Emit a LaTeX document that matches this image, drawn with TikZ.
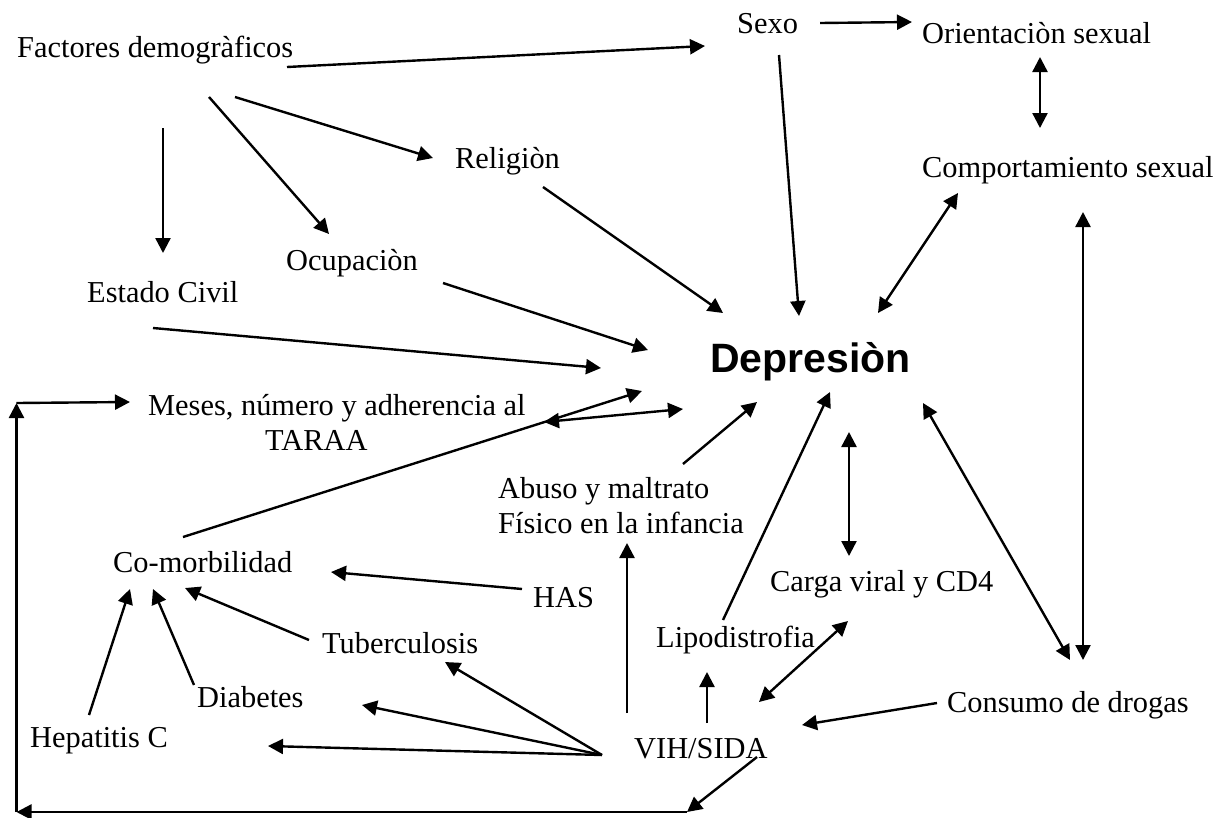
\documentclass[tikz,border=0pt]{standalone}
\usepackage{fontspec}
\setmainfont{Liberation Serif}
\newfontfamily\arialfont{Liberation Sans}
\usetikzlibrary{arrows.meta}
\begin{document}
\begin{tikzpicture}[x=1pt,y=-1pt,
  lbl/.style={anchor=base west,inner sep=0pt,font=\fontsize{30.4}{35}\selectfont},
  conn/.style={line width=2.4pt,-{Triangle[length=15pt,width=15pt]}},
  biconn/.style={line width=2.4pt,{Triangle[length=15pt,width=15pt]}-{Triangle[length=15pt,width=15pt]}},
  plain/.style={line width=2.4pt}]
\useasboundingbox (0,0) rectangle (1228,817);

% ---------- nodes ----------
\node[lbl] (fact)   at (17,57)   {Factores demogràficos};
\node[lbl] (sexo)   at (737,33)  {Sexo};
\node[lbl] (orient) at (922,43)  {Orientaciòn sexual};
\node[lbl] (comp)   at (922,177) {Comportamiento sexual};
\node[lbl] (relig)  at (455,168) {Religiòn};
\node[lbl] (ocup)   at (286,270) {Ocupaciòn};
\node[lbl] (estado) at (87,302)  {Estado Civil};
\node[anchor=base west,inner sep=0pt,font=\arialfont\bfseries\fontsize{41}{47}\selectfont] (depr) at (710,372) {Depresiòn};
\node[lbl] (meses)  at (148,415) {\vtop{\hbox{Meses, número y adherencia al}\hbox{\hspace*{117pt}TARAA}}};
\node[lbl] (abuso)  at (498,498) {\vtop{\hbox{Abuso y maltrato}\hbox{Físico en la infancia}}};
\node[lbl] (como)   at (113,572) {Co-morbilidad};
\node[lbl] (has)    at (533,607) {HAS};
\node[lbl] (tuber)  at (322,653) {Tuberculosis};
\node[lbl] (diab)   at (197,707) {Diabetes};
\node[lbl] (hepa)   at (30,747)  {Hepatitis C};
\node[lbl] (lipo)   at (656,647) {Lipodistrofia};
\node[lbl] (carga)  at (770,591) {Carga viral y CD4};
\node[lbl] (vih)    at (634,758) {VIH/SIDA};
\node[lbl] (consumo) at (947,712) {Consumo de drogas};

% ---------- connector end points ----------
\coordinate (factA) at (287,67);   \coordinate (sexoIn) at (705,46);
\coordinate (factB) at (163,128);  \coordinate (estadoIn) at (163,253);
\coordinate (factC) at (209,97);   \coordinate (ocupIn) at (329,234);
\coordinate (factD) at (235,97);   \coordinate (religIn) at (433,158);
\coordinate (religOut) at (543,187); \coordinate (deprA) at (723,313);
\coordinate (sexoOut) at (779,55);   \coordinate (deprB) at (799,316);
\coordinate (sexoR) at (820,23);     \coordinate (orientIn) at (912,22);
\coordinate (orientB) at (1040,57);  \coordinate (compT) at (1040,128);
\coordinate (compL) at (958,193);    \coordinate (deprC) at (878,313);
\coordinate (compB) at (1083,212);   \coordinate (consumoT) at (1083,660);
\coordinate (deprD) at (923,403);    \coordinate (consumoL) at (1070,660);
\coordinate (deprE) at (849,432);    \coordinate (cargaT) at (849,556);
\coordinate (lipoOut) at (723,620);  \coordinate (deprF) at (830,392);
\coordinate (abusoOut) at (683,464); \coordinate (deprG) at (757,402);
\coordinate (estadoOut) at (153,328); \coordinate (deprH) at (601,368);
\coordinate (ocupOut) at (443,283);  \coordinate (deprI) at (648,350);
\coordinate (mesesR) at (544,422);   \coordinate (deprJ) at (683,409);
\coordinate (comoOut) at (183,537);  \coordinate (deprK) at (642,391);
\coordinate (hasOut) at (522,589);   \coordinate (comoA) at (331,572);
\coordinate (tuberOut) at (309,640); \coordinate (comoB) at (185,588);
\coordinate (diabOut) at (194,685);  \coordinate (comoC) at (153,589);
\coordinate (hepaOut) at (89,715);   \coordinate (comoD) at (130,589);
\coordinate (vihL) at (602,755);
\coordinate (tuberIn) at (445,662);  \coordinate (diabIn) at (362,705);
\coordinate (hepaIn) at (268,746);
\coordinate (vihT) at (627,713);     \coordinate (abusoIn) at (627,543);
\coordinate (vihU) at (707,723);     \coordinate (lipoIn) at (707,672);
\coordinate (vihR) at (759,702);     \coordinate (cargaB) at (848,621);
\coordinate (consumoOut) at (937,703); \coordinate (vihIn) at (802,725);
\coordinate (vihD) at (757,757);
\coordinate (loopA) at (687,812);
\coordinate (loopB) at (16.5,812);
\coordinate (loopC) at (16.5,403);
\coordinate (mesesIn) at (130,402);

% ---------- connectors ----------
\draw[conn] (factA) -- (sexoIn);
\draw[conn] (factB) -- (estadoIn);
\draw[conn] (factC) -- (ocupIn);
\draw[conn] (factD) -- (religIn);
\draw[conn] (religOut) -- (deprA);
\draw[conn] (sexoOut) -- (deprB);
\draw[conn] (sexoR) -- (orientIn);
\draw[biconn] (orientB) -- (compT);
\draw[biconn] (compL) -- (deprC);
\draw[biconn] (compB) -- (consumoT);
\draw[biconn] (deprD) -- (consumoL);
\draw[biconn] (deprE) -- (cargaT);
\draw[conn] (lipoOut) -- (deprF);
\draw[conn] (abusoOut) -- (deprG);
\draw[conn] (estadoOut) -- (deprH);
\draw[conn] (ocupOut) -- (deprI);
\draw[biconn] (mesesR) -- (deprJ);
\draw[conn] (comoOut) -- (deprK);
\draw[conn] (hasOut) -- (comoA);
\draw[conn] (tuberOut) -- (comoB);
\draw[conn] (diabOut) -- (comoC);
\draw[conn] (hepaOut) -- (comoD);
\draw[conn] (vihL) -- (tuberIn);
\draw[conn] (vihL) -- (diabIn);
\draw[conn] (vihL) -- (hepaIn);
\draw[conn] (vihT) -- (abusoIn);
\draw[conn] (vihU) -- (lipoIn);
\draw[biconn] (vihR) -- (cargaB);
\draw[conn] (consumoOut) -- (vihIn);
\draw[conn] (vihD) -- (loopA);
\draw[conn] (loopA) -- (loopB);
\draw[conn] (loopB) -- (loopC);
\draw[conn] (loopC) -- (mesesIn);
\end{tikzpicture}
\end{document}
